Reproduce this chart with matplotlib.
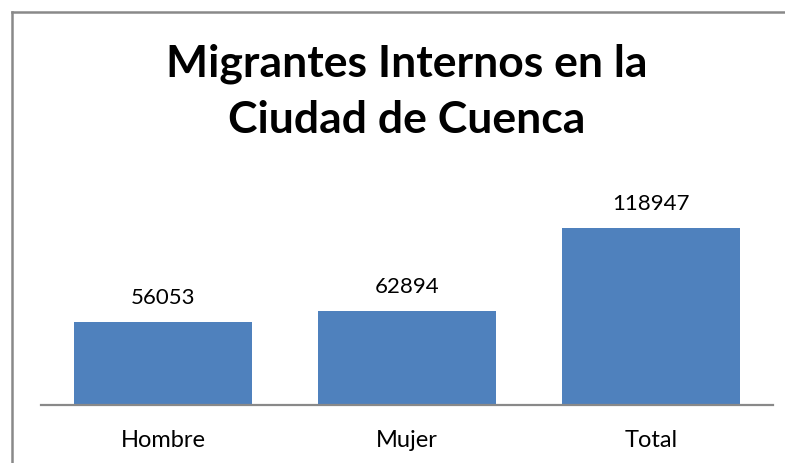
import matplotlib.pyplot as plt
from matplotlib.lines import Line2D

plt.rcParams['font.family'] = ['Lato', 'DejaVu Sans']

# Migrantes internos por sexo
categorias = ['Hombre', 'Mujer', 'Total']
valores = [56053, 62894, 118947]

azul = '#4F81BD'
gris = '#898989'

fig = plt.figure(figsize=(7.85, 4.63), dpi=100)
ax = fig.add_axes([41 / 785, 58 / 463, 732 / 785, 250 / 463])

x = range(len(categorias))
barras = ax.bar(x, valores, width=0.73, color=azul)

# etiquetas de valor sobre cada barra
for b, v in zip(barras, valores):
    ax.annotate(str(v), (b.get_x() + b.get_width() / 2, v),
                xytext=(0, 13), textcoords='offset points',
                ha='center', va='baseline', fontsize=16)

ax.set_xlim(-0.5, 2.5)
ax.set_ylim(0, 168000)
ax.set_xticks(list(x))
ax.set_xticklabels(categorias, fontsize=17, va='baseline')
ax.tick_params(axis='x', length=0, pad=30)
ax.set_yticks([])
for lado in ['left', 'right', 'top']:
    ax.spines[lado].set_visible(False)
ax.spines['bottom'].set_color(gris)
ax.spines['bottom'].set_linewidth(1.6)

# titulo en dos lineas
fig.text(407 / 785, 1 - 77 / 463, 'Migrantes Internos en la',
         ha='center', va='baseline', fontsize=32, fontweight='bold')
fig.text(407 / 785, 1 - 133 / 463, 'Ciudad de Cuenca',
         ha='center', va='baseline', fontsize=32, fontweight='bold')

# marco del grafico
y_top = 1 - 12 / 463
x_izq = 12 / 785
fig.add_artist(Line2D([x_izq, 1], [y_top, y_top], color=gris, lw=1.8,
                      transform=fig.transFigure))
fig.add_artist(Line2D([x_izq, x_izq], [0, y_top], color=gris, lw=1.8,
                      transform=fig.transFigure))

fig.savefig('out.png', dpi=100)
